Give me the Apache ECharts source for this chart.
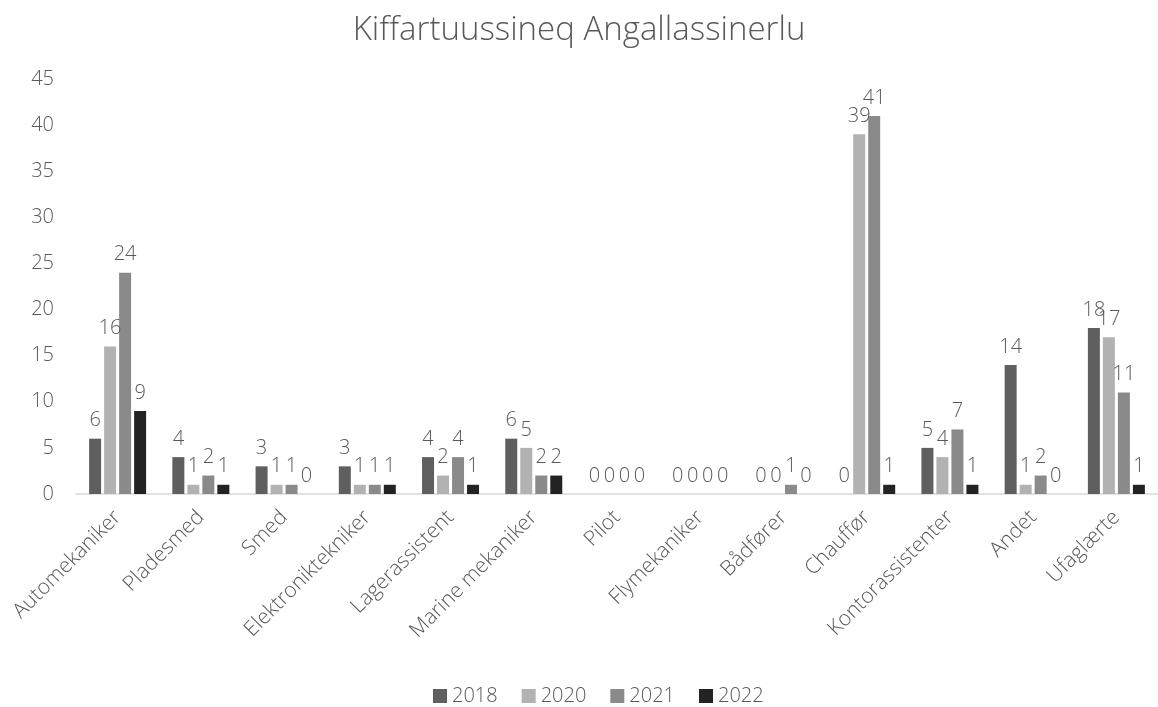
<!DOCTYPE html>
<html>
<head>
<meta charset="utf-8">
<script src="https://cdn.jsdelivr.net/npm/echarts@6/dist/echarts.min.js"></script>
<style>
  html, body { margin: 0; padding: 0; background: #fff; }
  #chart { width: 1158px; height: 707px; }
</style>
</head>
<body>
<div id="chart"></div>
<script>
var categories = ['Automekaniker', 'Pladesmed', 'Smed', 'Elektroniktekniker', 'Lagerassistent',
  'Marine mekaniker', 'Pilot', 'Flymekaniker', 'Bådfører', 'Chauffør',
  'Kontorassistenter', 'Andet', 'Ufaglærte'];
var y2018 = [6, 4, 3, 3, 4, 6, 0, 0, 0, 0, 5, 14, 18];
var y2020 = [16, 1, 1, 1, 2, 5, 0, 0, 0, 39, 4, 1, 17];
var y2021 = [24, 2, 1, 1, 4, 2, 0, 0, 1, 41, 7, 2, 11];
var y2022 = [9, 1, 0, 1, 1, 2, 0, 0, 0, 1, 1, 0, 1];

var fontFam = '"Open Sans", "Noto Sans", sans-serif';
var textCol = '#595959';

function mk(name, data, color) {
  return {
    name: name,
    type: 'bar',
    data: data,
    barWidth: 12,
    barGap: '25%',
    itemStyle: { color: color },
    label: {
      show: true,
      position: 'top',
      distance: 8,
      color: textCol,
      fontSize: 20,
      fontFamily: fontFam,
      fontWeight: 300
    }
  };
}

var myChart = echarts.init(document.getElementById('chart'));
myChart.setOption({
  animation: false,
  backgroundColor: '#fff',
  title: {
    text: 'Kiffartuussineq Angallassinerlu',
    left: 'center',
    top: 9,
    textStyle: { color: textCol, fontSize: 33, fontWeight: 300, fontFamily: fontFam }
  },
  legend: {
    top: 681,
    left: 428,
    itemWidth: 14,
    itemHeight: 14,
    itemGap: 24,
    icon: 'rect',
    textStyle: { color: textCol, fontSize: 20, fontFamily: fontFam, fontWeight: 300 },
    data: ['2018', '2020', '2021', '2022']
  },
  grid: { left: 76, top: 79, width: 1086, height: 415 },
  xAxis: {
    type: 'category',
    data: categories,
    axisLine: { lineStyle: { color: '#d9d9d9', width: 1.5 } },
    axisTick: { show: false },
    axisLabel: {
      rotate: 45,
      interval: 0,
      color: textCol,
      fontSize: 21,
      fontFamily: fontFam,
      fontWeight: 300,
      margin: 20
    }
  },
  yAxis: {
    type: 'value',
    min: 0,
    max: 45,
    interval: 5,
    splitLine: { show: false },
    axisLine: { show: false },
    axisTick: { show: false },
    axisLabel: { color: textCol, fontSize: 20, fontFamily: fontFam, fontWeight: 300, margin: 22 }
  },
  series: [
    mk('2018', y2018, '#5f5f5f'),
    mk('2020', y2020, '#b2b2b2'),
    mk('2021', y2021, '#8a8a8a'),
    mk('2022', y2022, '#232323')
  ]
});
</script>
</body>
</html>
